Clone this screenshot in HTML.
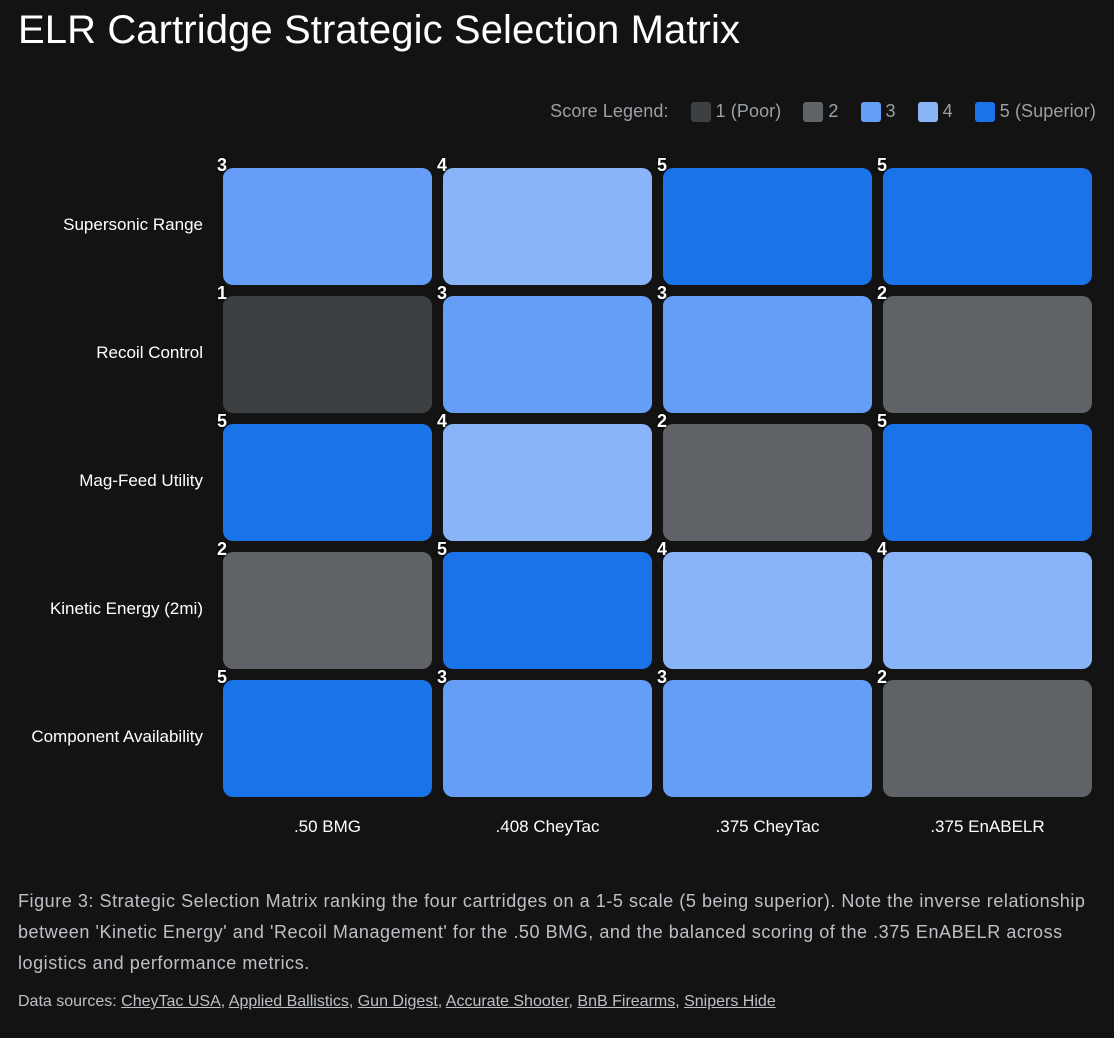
<!DOCTYPE html>
<html><head><style>
body{margin:0;width:1114px;height:1038px;background:#131313;font-family:"Liberation Sans",sans-serif;position:relative;overflow:hidden;color:#e8eaed}
.a{position:absolute;white-space:nowrap}
.t{left:18px;top:8px;font-size:40px;color:#fff;letter-spacing:0.1px}
.leg{top:101px;right:18px;font-size:18px;color:#9aa0a6;display:flex;align-items:center;letter-spacing:0.1px}
.sw{display:inline-block;width:20px;height:20px;border-radius:3px;margin:0 5px 0 22px}
.c{position:absolute;width:209px;height:117px;border-radius:10px}
.n{position:absolute;font-size:18px;font-weight:bold;color:#fff;text-shadow:0 0 2px #000,0 0 2px #000}
.rl{position:absolute;right:911px;font-size:17px;color:#fff;text-align:right}
.cl{position:absolute;width:209px;text-align:center;font-size:17px;color:#fff;top:817px}
.cap{left:18px;top:886px;font-size:18px;line-height:31px;color:#bdc1c6;letter-spacing:0.55px}
.src{left:18px;top:993px;font-size:16px;color:#bdc1c6;letter-spacing:0px}
.src u{color:#bdc1c6}
</style></head><body>
<div class="a t">ELR Cartridge Strategic Selection Matrix</div>
<div class="a leg">Score Legend:<span class="sw" style="background:#3c4043"></span>1 (Poor)<span class="sw" style="background:#5f6368"></span>2<span class="sw" style="background:#669df6"></span>3<span class="sw" style="background:#8ab4f8"></span>4<span class="sw" style="background:#1a73e8"></span>5 (Superior)</div>
<div id="g"></div>
<div class="rl" style="top:215px">Supersonic Range</div>
<div class="rl" style="top:343px">Recoil Control</div>
<div class="rl" style="top:471px">Mag-Feed Utility</div>
<div class="rl" style="top:599px">Kinetic Energy (2mi)</div>
<div class="rl" style="top:727px">Component Availability</div>
<div class="cl" style="left:223px">.50 BMG</div>
<div class="cl" style="left:443px">.408 CheyTac</div>
<div class="cl" style="left:663px">.375 CheyTac</div>
<div class="cl" style="left:883px">.375 EnABELR</div>
<div class="a cap">Figure 3: Strategic Selection Matrix ranking the four cartridges on a 1-5 scale (5 being superior). Note the inverse relationship<br>between 'Kinetic Energy' and 'Recoil Management' for the .50 BMG, and the balanced scoring of the .375 EnABELR across<br>logistics and performance metrics.</div>
<div class="a src">Data sources: <u>CheyTac USA</u>, <u>Applied Ballistics</u>, <u>Gun Digest</u>, <u>Accurate Shooter</u>, <u>BnB Firearms</u>, <u>Snipers Hide</u></div>
<script>
var d=[[3,4,5,5],[1,3,3,2],[5,4,2,5],[2,5,4,4],[5,3,3,2]];
var col={1:"#3c4043",2:"#5f6368",3:"#669df6",4:"#8ab4f8",5:"#1a73e8"};
var h="";
for(var r=0;r<5;r++)for(var c=0;c<4;c++){var x=223+c*220,y=168+r*128;
h+='<div class="c" style="left:'+x+'px;top:'+y+'px;background:'+col[d[r][c]]+'"></div>';
h+='<div class="n" style="left:'+(x-6)+'px;top:'+(y-13)+'px">'+d[r][c]+'</div>';}
document.getElementById("g").innerHTML=h;
</script>
</body></html>
